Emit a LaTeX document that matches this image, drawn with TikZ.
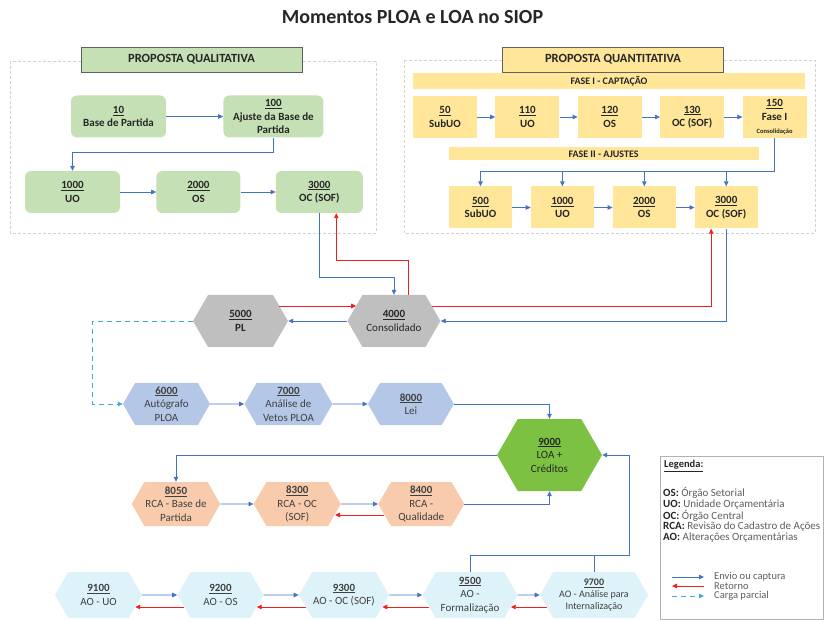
\documentclass[tikz,border=0pt]{standalone}
\usepackage{fontspec}
\setmainfont{Carlito}
\usepackage{xcolor}
\usetikzlibrary{shapes.symbols, arrows.meta, positioning}
\definecolor{qgreen}{HTML}{C5E0B4}
\definecolor{qyellow}{HTML}{FFE699}
\definecolor{hexgray}{HTML}{BFBFBF}
\definecolor{hexblue}{HTML}{B4C7E7}
\definecolor{hexgreen}{HTML}{7CC142}
\definecolor{hexorange}{HTML}{F8CBAD}
\definecolor{hexcyan}{HTML}{DEF3F9}
\definecolor{arrblue}{HTML}{4472C4}
\definecolor{arrred}{HTML}{F01E1E}
\definecolor{arrcyan}{HTML}{3AAFCB}
\definecolor{txtdark}{HTML}{262626}
\definecolor{txtgray}{HTML}{404040}
\newcommand{\codnum}[1]{\underline{\textbf{#1}}}
\tikzset{
  qbox/.style={rectangle, rounded corners=6pt, fill=qgreen, minimum height=42pt, inner sep=1pt, align=center, text=txtdark, font=\fontsize{11}{13.5}\selectfont\bfseries},
  kbox/.style={rectangle, fill=qyellow, minimum width=64pt, minimum height=42pt, inner sep=1pt, align=center, text=txtdark, font=\fontsize{11}{13.5}\selectfont\bfseries},
  headbox/.style={rectangle, draw=gray!75!black, fill=#1, minimum width=221pt, minimum height=25pt, text=txtdark, font=\fontsize{12.5}{14}\selectfont\bfseries},
  fasebar/.style={rectangle, fill=qyellow, inner sep=0pt, text=txtdark, font=\fontsize{10}{12}\selectfont\bfseries},
  hexa/.style={signal, signal to=west and east, signal pointer angle=120, fill=#1, inner sep=1pt, align=center, text=txtgray, font=\fontsize{11}{13.5}\selectfont},
  grupo/.style={draw=gray!35, densely dashed, line width=0.6pt},
  envio/.style={-{Triangle[length=5pt,width=4.5pt]}, draw=arrblue, line width=0.8pt},
  retorno/.style={-{Triangle[length=5pt,width=4.5pt]}, draw=arrred, line width=0.9pt},
  carga/.style={-{Triangle[length=5pt,width=4.5pt]}, draw=arrcyan, dash pattern=on 5pt off 4pt, line width=0.8pt},
}
\begin{document}
\begin{tikzpicture}[x=1pt, y=-1pt]
  \useasboundingbox (0,0) rectangle (825,620);
  \node[text=txtdark, font=\fontsize{20}{24}\selectfont\bfseries] (titulo) at (412.5,17) {Momentos PLOA e LOA no SIOP};

  % proposta qualitativa
  \draw[grupo] (10,61) rectangle (376,233);
  \node[headbox=qgreen] (hqual) at (191.5,59.5) {PROPOSTA QUALITATIVA};
  \node[qbox, minimum width=95pt] (q10) at (118.5,116.5) {\underline{10}\\Base de Partida};
  \node[qbox, minimum width=100pt, right=57pt of q10] (q100) {\underline{100}\\Ajuste da Base de\\Partida};
  \node[qbox, minimum width=95pt] (q1000) at (72.5,192) {\underline{1000}\\UO};
  \node[qbox, minimum width=84pt, right=36pt of q1000] (q2000) {\underline{2000}\\OS};
  \node[qbox, minimum width=87pt, right=35pt of q2000] (q3000) {\underline{3000}\\OC (SOF)};
  \draw[envio] (q10) -- (q100);
  \draw[envio] (q100.south) -- ++(0,15) -| (q1000.north);
  \draw[envio] (q1000) -- (q2000);
  \draw[envio] (q2000) -- (q3000);

  % proposta quantitativa
  \draw[grupo] (404,60) rectangle (815,233);
  \node[headbox=qyellow] (hquant) at (613,59.5) {PROPOSTA QUANTITATIVA};
  \node[fasebar, minimum width=392pt, minimum height=16pt] (fase1) at (609,81) {FASE I - CAPTAÇÃO};
  \node[kbox] (k50) at (445,117) {\underline{50}\\SubUO};
  \node[kbox, right=18pt of k50] (k110) {\underline{110}\\UO};
  \node[kbox, right=18pt of k110] (k120) {\underline{120}\\OS};
  \node[kbox, right=18pt of k120] (k130) {\underline{130}\\OC (SOF)};
  \node[kbox, right=18pt of k130] (k150) {\underline{150}\\Fase I\\\fontsize{6.5}{8}\selectfont Consolidação};
  \node[fasebar, minimum width=310pt, minimum height=13pt] (fase2) at (603.5,154) {FASE II - AJUSTES};
  \node[kbox, minimum width=63pt] (k500) at (480.5,207.5) {\underline{500}\\SubUO};
  \node[kbox, minimum width=63pt, right=18.5pt of k500] (k1000) {\underline{1000}\\UO};
  \node[kbox, minimum width=63pt, right=18.5pt of k1000] (k2000) {\underline{2000}\\OS};
  \node[kbox, minimum width=63pt, right=18.5pt of k2000] (k3000) {\underline{3000}\\OC (SOF)};
  \foreach \a/\b in {k50/k110, k110/k120, k120/k130, k130/k150}
    \draw[envio] (\a) -- (\b);
  \draw[envio] (k150.south) -- ++(0,33) coordinate (fasedrop) -| (k500.north);
  \foreach \b in {k1000, k2000, k3000}
    \draw[envio] (\b.north |- fasedrop) -- (\b.north);
  \foreach \a/\b in {k500/k1000, k1000/k2000, k2000/k3000}
    \draw[envio] (\a) -- (\b);

  % PL e consolidado
  \node[hexa=hexgray, minimum width=95pt, minimum height=52pt, text=txtdark] (h5000) at (240.5,321) {\codnum{5000}\\\textbf{PL}};
  \node[hexa=hexgray, minimum width=93pt, minimum height=52pt, text=txtdark, right=59pt of h5000] (h4000) {\codnum{4000}\\Consolidado};
  \draw[envio] (q3000.south) -- ++(0,64) -| (h4000.north);
  \draw[retorno] ([xshift=14pt]h4000.north) -- ++(0,-34) -| ([xshift=17pt]q3000.south);
  \draw[retorno] ([xshift=-9pt,yshift=15pt]h5000.east) -- ([xshift=9pt,yshift=15pt]h4000.west);
  \draw[envio] (h4000.west) -- (h5000.east);
  \draw[retorno] ([xshift=-9pt,yshift=15pt]h4000.east) -| ([xshift=-15pt]k3000.south);
  \draw[envio] (k3000.south) |- (h4000.east);

  % PLOA e lei
  \node[hexa=hexblue, minimum width=87pt, minimum height=42pt] (h6000) at (166.5,404) {\codnum{6000}\\Autógrafo\\PLOA};
  \node[hexa=hexblue, minimum width=88pt, minimum height=42pt, right=34pt of h6000] (h7000) {\codnum{7000}\\Análise de\\Vetos PLOA};
  \node[hexa=hexblue, minimum width=86pt, minimum height=42pt, right=35pt of h7000] (h8000) {\codnum{8000}\\Lei};
  \draw[carga] (h5000.west) -- ++(-100,0) |- (h6000.west);
  \draw[envio] (h6000) -- (h7000);
  \draw[envio] (h7000) -- (h8000);

  \node[hexa=hexgreen, minimum width=105pt, minimum height=72pt, text=txtdark] (h9000) at (549.5,455) {\codnum{9000}\\LOA +\\Créditos};
  \draw[envio] (h8000.east) -| (h9000.north);

  % RCA
  \node[hexa=hexorange, minimum width=88pt, minimum height=44pt] (h8050) at (176,504) {\codnum{8050}\\RCA - Base de\\Partida};
  \node[hexa=hexorange, minimum width=87pt, minimum height=44pt, right=33pt of h8050] (h8300) {\codnum{8300}\\RCA - OC\\(SOF)};
  \node[hexa=hexorange, minimum width=86pt, minimum height=44pt, right=37pt of h8300] (h8400) {\codnum{8400}\\RCA -\\Qualidade};
  \draw[envio] (h9000.west) -| (h8050.north);
  \draw[envio] (h8050) -- (h8300);
  \draw[envio] (h8300) -- (h8400);
  \draw[retorno] ([xshift=6pt,yshift=-11pt]h8400.west) -- ([xshift=-6pt,yshift=-11pt]h8300.east);
  \draw[envio] (h8400.east) -| (h9000.south);

  % alteracoes orcamentarias
  \node[hexa=hexcyan, minimum width=87pt, minimum height=46pt] (h9100) at (98.5,595) {\codnum{9100}\\AO - UO};
  \node[hexa=hexcyan, minimum width=86pt, minimum height=46pt, right=35pt of h9100] (h9200) {\codnum{9200}\\AO - OS};
  \node[hexa=hexcyan, minimum width=88pt, minimum height=46pt, right=35pt of h9200] (h9300) {\codnum{9300}\\AO - OC (SOF)};
  \node[hexa=hexcyan, minimum width=95pt, minimum height=46pt, right=33pt of h9300] (h9500) {\codnum{9500}\\AO -\\Formalização};
  \node[hexa=hexcyan, minimum width=108pt, minimum height=46pt, right=22pt of h9500, font=\fontsize{10}{12}\selectfont] (h9700) {\codnum{9700}\\AO - Análise para\\Internalização};
  \foreach \a/\b in {h9100/h9200, h9200/h9300, h9300/h9500, h9500/h9700} {
    \draw[envio] (\a) -- (\b);
    \draw[retorno] ([xshift=7pt,yshift=-12pt]\b.west) -- ([xshift=-7pt,yshift=-12pt]\a.east);
  }
  \draw[envio] (h9500.north) -- ++(0,-16) coordinate (aojunc) -| ([xshift=27pt]h9000.east) -- (h9000.east);
  \draw[arrblue, line width=0.8pt] (h9700.north) -- (h9700.north |- aojunc);

  % legenda
  \node[draw=gray!60, minimum width=163pt, minimum height=163pt, inner sep=0pt] (legbox) at (741.5,538) {};
  \node[anchor=west, inner sep=0pt, text=txtdark, font=\fontsize{10.5}{12}\selectfont\bfseries] (legtit) at (664,466) {\underline{Legenda:}};
  \node[anchor=north west, inner sep=0pt, align=left, text=txtgray!85, font=\fontsize{11}{10.7}\selectfont] (legtxt) at (663,487) {\textcolor{txtdark}{\textbf{OS:}} Órgão Setorial\\\textcolor{txtdark}{\textbf{UO:}} Unidade Orçamentária\\\textcolor{txtdark}{\textbf{OC:}} Órgão Central\\\textcolor{txtdark}{\textbf{RCA:}} Revisão do Cadastro de Ações\\\textcolor{txtdark}{\textbf{AO:}} Alterações Orçamentárias};
  \coordinate (lg1a) at (672,577);
  \coordinate (lg1b) at (704,577);
  \coordinate (lg2a) at (672,586);
  \coordinate (lg2b) at (704,586);
  \coordinate (lg3a) at (672,596);
  \coordinate (lg3b) at (704,596);
  \draw[envio] (lg1a) -- (lg1b);
  \draw[retorno] (lg2b) -- (lg2a);
  \draw[carga] (lg3a) -- (lg3b);
  \node[anchor=west, inner sep=0pt, text=txtgray!85, font=\fontsize{10.5}{12}\selectfont] (leg1) at (714,577) {Envio ou captura};
  \node[anchor=west, inner sep=0pt, text=txtgray!85, font=\fontsize{10.5}{12}\selectfont] (leg2) at (714,586) {Retorno};
  \node[anchor=west, inner sep=0pt, text=txtgray!85, font=\fontsize{10.5}{12}\selectfont] (leg3) at (714,596) {Carga parcial};
\end{tikzpicture}
\end{document}
